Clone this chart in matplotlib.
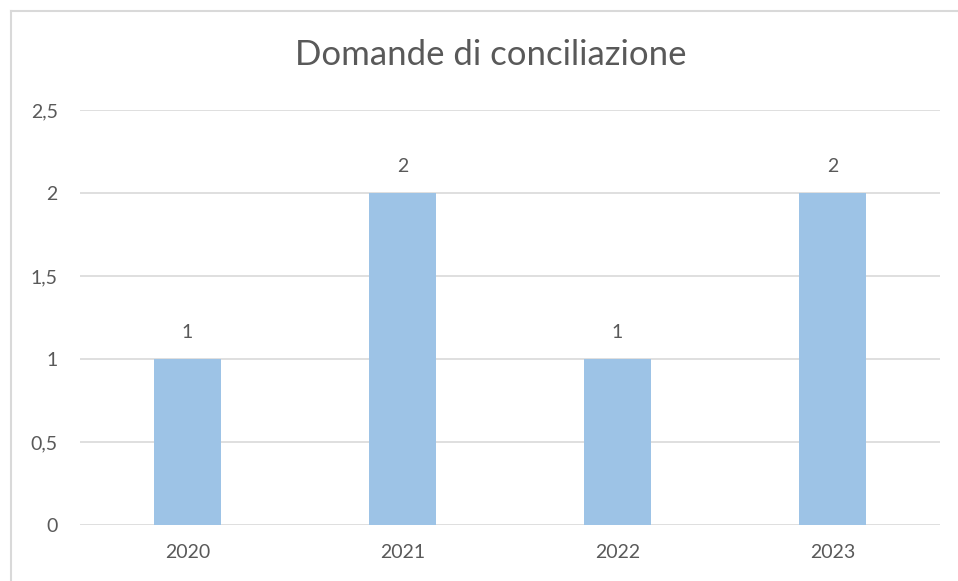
import matplotlib.pyplot as plt
from matplotlib.lines import Line2D
from matplotlib.ticker import FuncFormatter

# data
years = ['2020', '2021', '2022', '2023']
domande = [1, 2, 1, 2]

plt.rcParams['font.family'] = ['Lato', 'DejaVu Sans']
txt = '#595959'
grid = '#D9D9D9'

fig = plt.figure(figsize=(9.58, 5.81), dpi=100)
ax = fig.add_axes([80 / 958, 1 - 525 / 581, 860 / 958, 415 / 581])

# chart frame: only left and top edges fall inside the picture
fx, fy = 10.5 / 958, 1 - 11 / 581
fig.lines.append(Line2D([fx, fx], [0, fy], transform=fig.transFigure, color=grid, linewidth=1.5))
fig.lines.append(Line2D([fx, 1], [fy, fy], transform=fig.transFigure, color=grid, linewidth=1.5))

x = range(len(years))
bars = ax.bar(x, domande, width=0.316, color='#9DC3E6', zorder=3)
ax.bar_label(bars, labels=[str(v) for v in domande], padding=13, fontsize=14, color=txt)

ax.set_xlim(-0.5, len(years) - 0.5)
ax.set_ylim(0, 2.5)
ax.set_yticks([0, 0.5, 1, 1.5, 2, 2.5])
ax.yaxis.set_major_formatter(FuncFormatter(lambda v, p: ('%g' % v).replace('.', ',')))
ax.set_xticks(list(x))
ax.set_xticklabels(years)
ax.tick_params(length=0, labelsize=14, labelcolor=txt)
ax.tick_params(axis='y', pad=16)
ax.tick_params(axis='x', pad=14)
ax.grid(axis='y', color=grid, linewidth=1.2, zorder=0)
for s in ax.spines.values():
    s.set_visible(False)

fig.text(491 / 958, 1 - 55 / 581, 'Domande di conciliazione', ha='center', va='center',
         fontsize=25, color=txt)

fig.savefig('out.png', dpi=100)
